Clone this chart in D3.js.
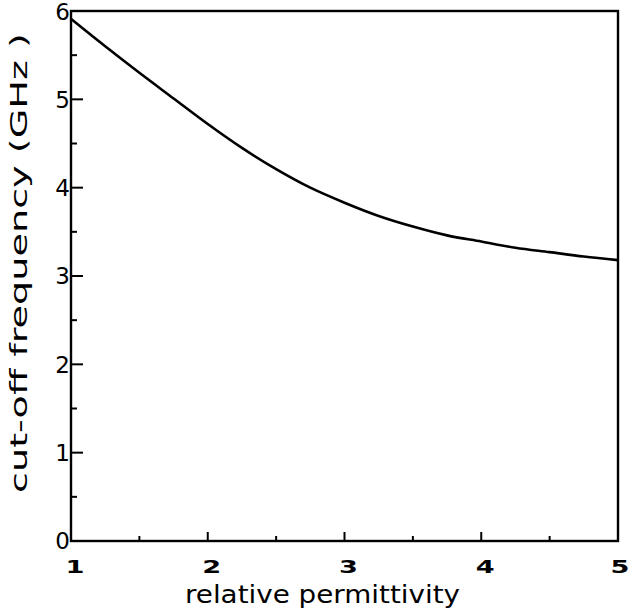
<!DOCTYPE html>
<html><head><meta charset="utf-8">
<script src="https://cdn.jsdelivr.net/npm/d3@7"></script>
<style>body{margin:0;background:#fff}svg{display:block}</style>
</head><body>
<script>
const permittivity = [1.0,1.25,1.5,1.75,2.0,2.25,2.5,2.75,3.0,3.25,3.5,3.75,4.0,4.25,4.5,4.75,5.0];
const cutoffGHz   = [5.91,5.60,5.30,5.01,4.72,4.45,4.21,4.00,3.83,3.68,3.56,3.46,3.39,3.32,3.27,3.22,3.18];
const xTicks = [1,2,3,4,5];
const xMinor = [1.5,2.5,3.5,4.5];
const yTicks = [0,1,2,3,4,5,6];
const yMinor = [0.5,1.5,2.5,3.5,4.5,5.5];
const xLabel = "relative permittivity";
const yLabel = "cut-off  frequency (GHz )";

const W=632,H=610;
const L=71,R=618,T=11,B=541;
const svg=d3.select("body").append("svg").attr("width",W).attr("height",H);
const x=d3.scaleLinear().domain([1,5]).range([L,R]);
const y=d3.scaleLinear().domain([0,6]).range([B,T]);

// frame
svg.append("rect").attr("x",L).attr("y",T).attr("width",R-L).attr("height",B-T)
  .attr("fill","none").attr("stroke","#000").attr("stroke-width",2.4);

// y ticks (inward)
svg.selectAll(".ytm").data(yTicks.slice(1,-1)).join("line")
  .attr("x1",L).attr("x2",L+12).attr("y1",d=>y(d)).attr("y2",d=>y(d))
  .attr("stroke","#000").attr("stroke-width",2);
svg.selectAll(".ytn").data(yMinor).join("line")
  .attr("x1",L).attr("x2",L+6).attr("y1",d=>y(d)).attr("y2",d=>y(d))
  .attr("stroke","#000").attr("stroke-width",2);
// x ticks (inward, upward)
svg.selectAll(".xtm").data(xTicks.slice(1,-1)).join("line")
  .attr("x1",d=>x(d)).attr("x2",d=>x(d)).attr("y1",B).attr("y2",B-9)
  .attr("stroke","#000").attr("stroke-width",2);
svg.selectAll(".xtn").data(xMinor).join("line")
  .attr("x1",d=>x(d)).attr("x2",d=>x(d)).attr("y1",B).attr("y2",B-5)
  .attr("stroke","#000").attr("stroke-width",2);

// y tick labels
svg.selectAll(".yl").data(yTicks).join("text")
  .attr("x",L-1).attr("y",d=>Math.max(y(d),12)).attr("dy","0.36em")
  .attr("text-anchor","end").attr("font-family","DejaVu Sans").attr("font-size",23)
  .text(d=>d);
// x tick labels (bold, wide)
svg.selectAll(".xl").data(xTicks).join("text")
  .attr("transform",d=>`translate(${Math.min(x(d)+4,620)},573) scale(1.6,1)`)
  .attr("text-anchor","middle").attr("font-family","DejaVu Sans").attr("font-weight","bold")
  .attr("font-size",17).text(d=>d);

// axis titles
svg.append("text").attr("x",185).attr("y",603)
  .attr("font-family","DejaVu Sans").attr("font-size",24)
  .attr("textLength",275).attr("lengthAdjust","spacingAndGlyphs").text(xLabel);
svg.append("text").attr("transform",`translate(27,493) rotate(-90)`)
  .attr("font-family","DejaVu Sans").attr("font-size",23)
  .attr("textLength",460).attr("lengthAdjust","spacingAndGlyphs")
  .text(yLabel);

// curve
const line=d3.line().x((d,i)=>x(permittivity[i])).y(d=>y(d)).curve(d3.curveMonotoneX);
svg.append("path").datum(cutoffGHz).attr("d",line).attr("fill","none")
  .attr("stroke","#000").attr("stroke-width",2.6);
</script>
</body></html>
